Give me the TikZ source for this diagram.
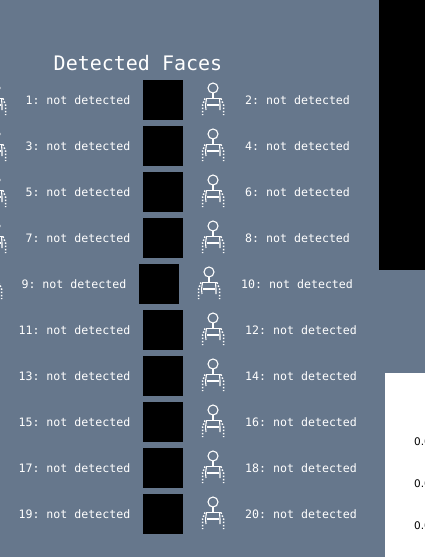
\documentclass[tikz,border=0pt]{standalone}
\usepackage{fontspec}
\setmonofont{DejaVu Sans Mono}
\setsansfont{DejaVu Sans}
\definecolor{bgslate}{RGB}{102,119,140}
\tikzset{
  x=1pt,y=-1pt,
  titletext/.style={inner sep=0pt,text=white,font=\ttfamily\fontsize{20}{22}\selectfont},
  rowlabel/.style={inner sep=0pt,text=white,font=\ttfamily\fontsize{11.6}{12}\selectfont},
  facebox/.style={fill=black,draw=none,minimum size=40pt,inner sep=0pt},
  scaletext/.style={inner sep=0pt,anchor=west,text=black,font=\sffamily\fontsize{10.5}{12}\selectfont},
  personline/.style={draw=white,line width=1.1pt},
  persondots/.style={draw=white,line width=1.5pt,dash pattern=on 1.5pt off 1.7pt},
  person/.pic={
    \draw[personline] (0,-12) circle (5);
    \draw[personline] (0,-7) -- (0,-1.5);
    \draw[personline] (-7.5,-1.5) -- (7.5,-1.5);
    \draw[personline] (-6.5,5) -- (6,5);
    \draw[personline] (-6.5,-1.5) -- (-7.5,5) -- (-7,10);
    \draw[personline] (6.5,-1.5) -- (7,5) -- (7,10);
    \draw[persondots] (-8,-1.5) -- (-10.5,5) -- (-10.5,15);
    \draw[persondots] (8,-1.5) -- (10.5,5) -- (10.5,15);
  }
}
\begin{document}
\begin{tikzpicture}
\useasboundingbox (0,0) rectangle (425,557);
\fill[bgslate] (0,0) rectangle (425,557);
\fill[black] (379,0) rectangle (425,270);
\fill[white] (385,373) rectangle (425,557);
\node[titletext] (title) at (138,63) {Detected Faces};
\foreach \odd/\even/\yy/\dx/\pers in {1/2/100/0/1,3/4/146/0/1,5/6/192/0/1,7/8/238/0/1,9/10/284/-4/1,11/12/330/0/0,13/14/376/0/0,15/16/422/0/0,17/18/468/0/0,19/20/514/0/0}{
  \node[rowlabel,anchor=east] (l\odd) at (130.5+\dx,\yy) {\odd: not detected};
  \node[facebox] (f\odd) at (163+\dx,\yy) {};
  \pic at (213+\dx,\yy) {person};
  \node[rowlabel,anchor=west] (l\even) at (245+\dx,\yy) {\even: not detected};
  \ifnum\pers=1
    \begin{scope}
      \clip (0,0) rectangle (425,557);
      \pic at (-5+\dx,\yy) {person};
    \end{scope}
  \fi
}
\begin{scope}
  \clip (385,373) rectangle (425,557);
  \node[scaletext] (s1) at (414,442) {0.0};
  \node[scaletext] (s2) at (414,484) {0.0};
  \node[scaletext] (s3) at (414,526) {0.0};
\end{scope}
\end{tikzpicture}
\end{document}
